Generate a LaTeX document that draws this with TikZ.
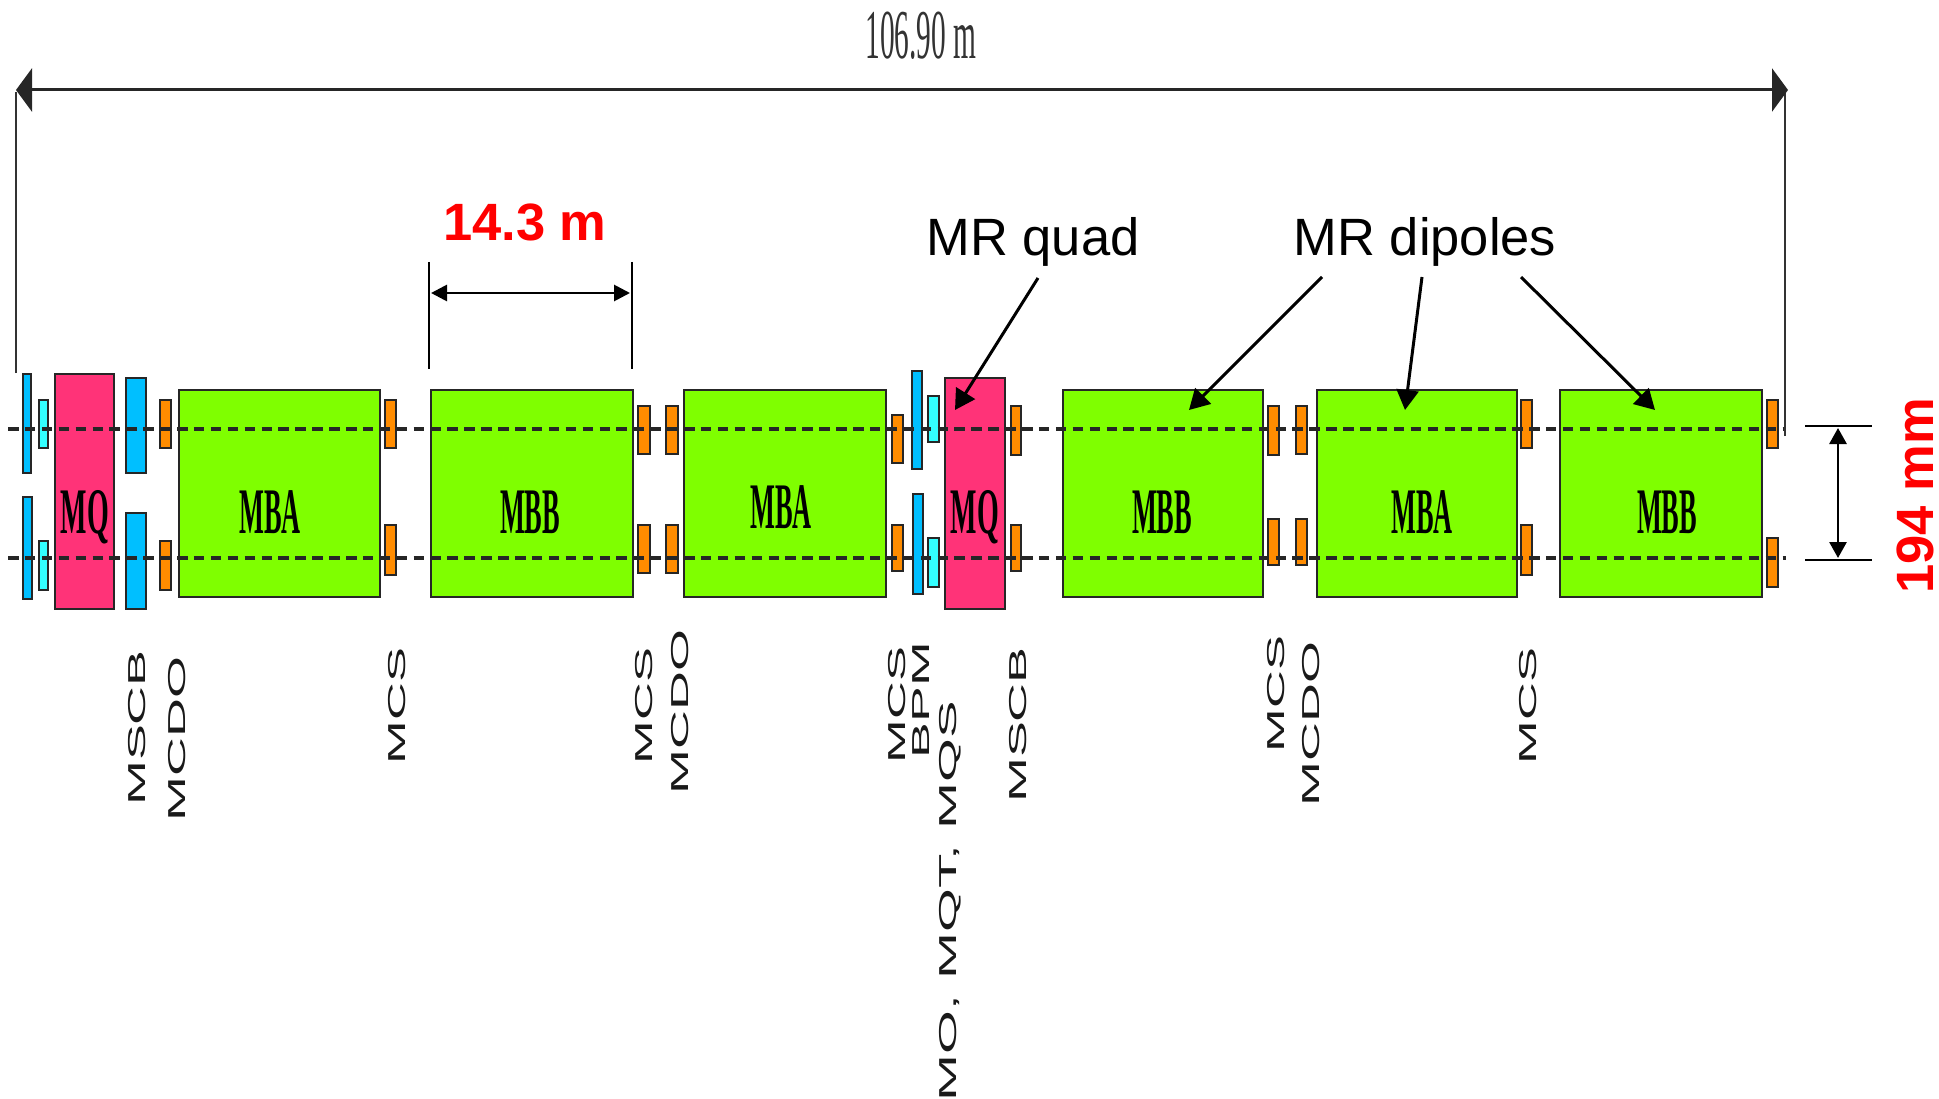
\documentclass[tikz,border=0pt]{standalone}
\usepackage{fontspec}
\setmainfont{Liberation Sans}
\newfontfamily\timesf{Liberation Serif}
\usetikzlibrary{arrows.meta}
\definecolor{dipgreen}{HTML}{7FFF00}
\definecolor{quadpink}{HTML}{FF3378}
\definecolor{corrblue}{HTML}{00BFFF}
\definecolor{corrcyan}{HTML}{33FFFF}
\definecolor{corrorange}{HTML}{FF8C00}
\tikzset{
  box/.style={draw=black!85,line width=2.2pt},
  dip/.style={box,fill=dipgreen},
  quad/.style={box,fill=quadpink},
  cblue/.style={box,fill=corrblue},
  ccyan/.style={box,fill=corrcyan},
  corange/.style={box,fill=corrorange},
  beam/.style={draw=black!85,line width=3.2pt,dash pattern=on 10.5pt off 6.4pt},
  ext/.style={draw=black!80,line width=1.4pt},
  dimline/.style={draw=black,line width=2.8pt},
  callout/.style={draw=black,line width=3pt,-{Triangle[length=20pt,width=22pt]}},
  magnet/.style={anchor=base,inner sep=0pt,font=\timesf\bfseries\fontsize{65}{70}\selectfont},
  vlabel/.style={rotate=90,inner sep=0pt,anchor=center,text=black!90,font=\fontsize{24.5}{26}\selectfont},
  bigtext/.style={inner sep=0pt,font=\fontsize{52.5}{60}\selectfont},
  redtext/.style={inner sep=0pt,text=red,font=\bfseries\fontsize{52.5}{60}\selectfont}
}
\newcommand{\narrow}[1]{\scalebox{0.405}[1]{#1}}
\newcommand{\wide}[2]{\scalebox{#1}[1]{#2}}
\begin{document}
\begin{tikzpicture}[x=1pt,y=-1pt]
\useasboundingbox (0,0) rectangle (1939,1099);
% dipoles
\draw[dip] (179,390) rectangle (380,597);
\draw[dip] (431,390) rectangle (633,597);
\draw[dip] (684,390) rectangle (886,597);
\draw[dip] (1063,390) rectangle (1263,597);
\draw[dip] (1317,390) rectangle (1517,597);
\draw[dip] (1560,390) rectangle (1762,597);
% quadrupoles
\draw[quad] (55,374) rectangle (114,609);
\draw[quad] (945,378) rectangle (1005,609);
% blue correctors
\draw[cblue] (23,374) rectangle (31,473);
\draw[cblue] (23,497) rectangle (32,599);
\draw[cblue] (126,378) rectangle (146,473);
\draw[cblue] (126,513) rectangle (146,609);
\draw[cblue] (912,371) rectangle (922,469);
\draw[cblue] (913,494) rectangle (923,594);
% cyan correctors
\draw[ccyan] (39,400) rectangle (48,448);
\draw[ccyan] (39,541) rectangle (48,590);
\draw[ccyan] (928,396) rectangle (939,442);
\draw[ccyan] (928,538) rectangle (939,587);
% orange correctors
\foreach \xa/\xb/\ya/\yb/\yc/\yd in {
 160/171/400/448/541/590,
 385/396/400/448/525/575,
 638/650/406/454/525/573,
 666/678/406/454/525/573,
 892/903/415/463/525/571,
 1011/1021/406/455/525/571,
 1268/1279/406/455/519/565,
 1296/1307/406/454/519/565,
 1521/1532/400/448/525/575,
 1767/1778/400/448/538/587}{
  \draw[corange] (\xa,\ya) rectangle (\xb,\yb);
  \draw[corange] (\xa,\yc) rectangle (\xb,\yd);
}
% beam lines
\coordinate (beamAl) at (8,429);
\coordinate (beamAr) at (1786,429);
\coordinate (beamBl) at (8,558);
\coordinate (beamBr) at (1786,558);
\draw[beam] (beamAl) -- (beamAr);
\draw[beam] (beamBl) -- (beamBr);
% magnet names
\node[magnet] (mq1) at (85,533) {\scalebox{0.43}[1]{MQ}};
\node[magnet] (mba1) at (270,533) {\narrow{MBA}};
\node[magnet] (mbb1) at (530,533) {\narrow{MBB}};
\node[magnet] (mba2) at (781,528) {\narrow{MBA}};
\node[magnet] (mq2) at (975,533) {\scalebox{0.43}[1]{MQ}};
\node[magnet] (mbb2) at (1162,533) {\narrow{MBB}};
\node[magnet] (mba3) at (1422,533) {\narrow{MBA}};
\node[magnet] (mbb3) at (1667,533) {\narrow{MBB}};
% overall length
\coordinate (extLb) at (16,373);
\coordinate (extLt) at (16,92);
\coordinate (extRb) at (1785,436);
\coordinate (extRt) at (1785,92);
\draw[ext] (extLb) -- (extLt);
\draw[ext] (extRb) -- (extRt);
\coordinate (lenL) at (16,90);
\coordinate (lenR) at (1788,90);
\draw[draw=black!85,line width=3pt,{Triangle[length=16pt,width=43pt]}-{Triangle[length=16pt,width=43pt]}] (lenL) -- (lenR);
\node[inner sep=0pt,anchor=base,font=\timesf\fontsize{70}{72}\selectfont,text=black!80] (lentext) at (921,59) {\scalebox{0.42}[1]{106.90 m}};
% 14.3 m
\coordinate (dAt) at (429,262);
\coordinate (dAb) at (429,369);
\coordinate (dBt) at (632,262);
\coordinate (dBb) at (632,369);
\draw[dimline] (dAt) -- (dAb);
\draw[dimline] (dBt) -- (dBb);
\coordinate (dAm) at (431,293);
\coordinate (dBm) at (630,293);
\draw[dimline,{Triangle[length=16pt,width=16pt]}-{Triangle[length=16pt,width=16pt]}] (dAm) -- (dBm);
\node[redtext] (len143) at (525,222) {14.3 m};
% callouts
\node[bigtext] (quadtext) at (1033,242) {MR quad};
\node[bigtext] (diptext) at (1425,242) {MR dipoles};
\coordinate (qs) at (1038,278);
\coordinate (qe) at (955,410);
\draw[callout] (qs) -- (qe);
\coordinate (ds1) at (1322,277);
\coordinate (de1) at (1189,410);
\draw[callout] (ds1) -- (de1);
\coordinate (ds2) at (1422,277);
\coordinate (de2) at (1405,410);
\draw[callout] (ds2) -- (de2);
\coordinate (ds3) at (1521,277);
\coordinate (de3) at (1655,410);
\draw[callout] (ds3) -- (de3);
% 194 mm
\coordinate (sAl) at (1805,426);
\coordinate (sAr) at (1872,426);
\coordinate (sBl) at (1805,560);
\coordinate (sBr) at (1872,560);
\draw[dimline] (sAl) -- (sAr);
\draw[dimline] (sBl) -- (sBr);
\coordinate (sAm) at (1838,428);
\coordinate (sBm) at (1838,558);
\draw[dimline,{Triangle[length=16pt,width=17pt]}-{Triangle[length=16pt,width=17pt]}] (sAm) -- (sBm);
\node[redtext,rotate=90] (sep) at (1915,496) {194 mm};
% corrector names
\node[vlabel] (l1) at (137,728) {\wide{2.2}{MSCB}};
\node[vlabel] (l2) at (177,739) {\wide{2.2}{MCDO}};
\node[vlabel] (l3) at (397,706) {\wide{2.14}{MCS}};
\node[vlabel] (l4) at (644,706) {\wide{2.14}{MCS}};
\node[vlabel] (l5) at (680,712) {\wide{2.2}{MCDO}};
\node[vlabel] (l6) at (897,705) {\wide{2.14}{MCS}};
\node[vlabel] (l7) at (921,700) {\wide{2.19}{BPM}};
\node[vlabel] (l8) at (950,901) {\wide{2.3}{MO, MQT, MQS}};
\node[vlabel] (l9) at (1018,725) {\wide{2.2}{MSCB}};
\node[vlabel] (l10) at (1276,694) {\wide{2.14}{MCS}};
\node[vlabel] (l11) at (1311,724) {\wide{2.2}{MCDO}};
\node[vlabel] (l12) at (1528,706) {\wide{2.14}{MCS}};
\end{tikzpicture}
\end{document}
